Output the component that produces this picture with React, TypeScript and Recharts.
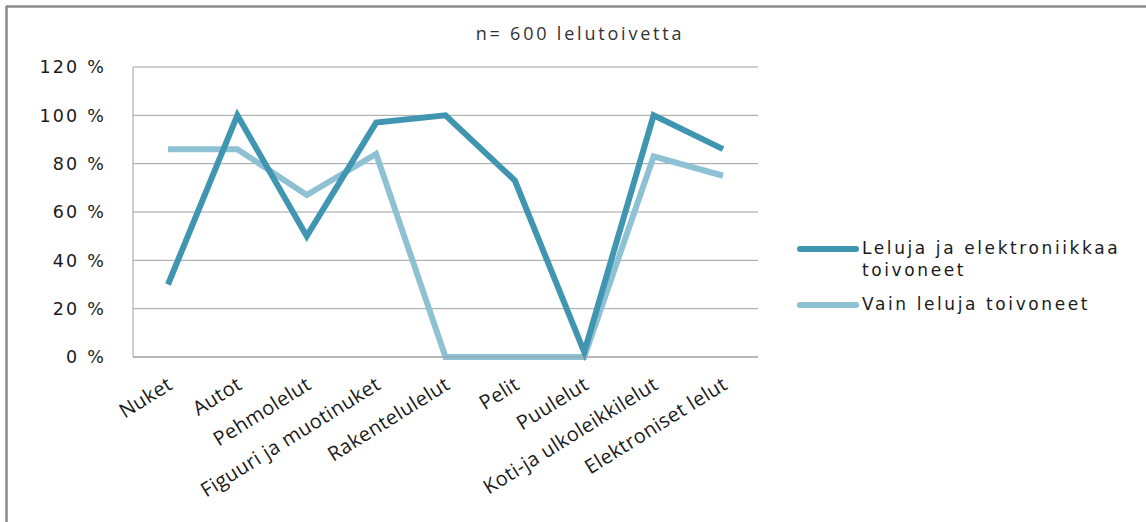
import { LineChart, Line, XAxis, YAxis, CartesianGrid, Legend } from "recharts"

const categories = [
  "Nuket",
  "Autot",
  "Pehmolelut",
  "Figuuri ja muotinuket",
  "Rakentelulelut",
  "Pelit",
  "Puulelut",
  "Koti-ja ulkoleikkilelut",
  "Elektroniset lelut"
]

// osuudet prosentteina
const lelujaJaElektroniikkaa = [30, 100, 50, 97, 100, 73, 2, 100, 86]
const vainLeluja = [86, 86, 67, 84, 0, 0, 0, 83, 75]

const yTicks = [0, 20, 40, 60, 80, 100, 120]

const seriesNames = ["Leluja ja elektroniikkaa toivoneet", "Vain leluja toivoneet"]

const DARK = "#4096b0"
const LIGHT = "#8ec1d4"
const FRAME = "#8a8a8a"

const data = categories.map((name, i) => ({
  name,
  a: lelujaJaElektroniikkaa[i],
  b: vainLeluja[i]
}))

const CategoryTick = ({ x, y, payload }: any) => (
  <text
    x={x + 6}
    y={y + 29}
    transform={`rotate(-32, ${x + 6}, ${y + 29})`}
    textAnchor="end"
    fontFamily="Open Sans"
    fontSize={20}
    letterSpacing={0.4}
    fill="#1a1a1a"
  >
    {payload.value}
  </text>
)

const LegendBox = () => (
  <div style={{ fontFamily: "DejaVu Sans", fontSize: 17, letterSpacing: 2.6, color: "#1a1a1a" }}>
    <div style={{ display: "flex", alignItems: "flex-start", marginBottom: 12 }}>
      <div style={{ width: 62, height: 6, borderRadius: 3, background: DARK, marginTop: 9, marginRight: 3 }} />
      <div style={{ lineHeight: "22px" }}>
        Leluja ja elektroniikkaa
        <br />
        toivoneet
      </div>
    </div>
    <div style={{ display: "flex", alignItems: "flex-start" }}>
      <div style={{ width: 62, height: 6, borderRadius: 3, background: LIGHT, marginTop: 9, marginRight: 3 }} />
      <div style={{ lineHeight: "22px" }}>Vain leluja toivoneet</div>
    </div>
  </div>
)

export default function App() {
  return (
    <div style={{ position: "fixed", left: 0, top: 0, width: 1146, height: 522, background: "#fff", overflow: "hidden" }}>
      <div
        style={{
          position: "absolute",
          left: 0,
          top: 21,
          width: 1160,
          textAlign: "center",
          fontFamily: "Open Sans",
          fontSize: 18,
          letterSpacing: 2.8,
          color: "#333"
        }}
      >
        n= 600 lelutoivetta
      </div>
      <div style={{ position: "absolute", left: 0, top: 0 }}>
        <LineChart
          width={1146}
          height={522}
          data={data}
          margin={{ top: 67, right: 388, bottom: 135, left: 43 }}
        >
          <CartesianGrid vertical={false} stroke="#a0a0a0" />
          <XAxis
            dataKey="name"
            interval={0}
            padding={{ left: 35, right: 35 }}
            stroke="#a0a0a0"
            tickLine={false}
            tickSize={0}
            tick={<CategoryTick />}
            height={30}
          />
          <YAxis
            width={90}
            domain={[0, 120]}
            ticks={yTicks}
            stroke="#a0a0a0"
            tickLine={false}
            tickSize={0}
            tickMargin={27}
            tickFormatter={(v: number) => `${v} %`}
            tick={{ fontFamily: "DejaVu Sans", fontSize: 17.5, letterSpacing: 2.2, fill: "#1a1a1a" }}
          />
          <Line
            type="linear"
            dataKey="b"
            name={seriesNames[1]}
            stroke={LIGHT}
            strokeWidth={6}
            dot={false}
            isAnimationActive={false}
          />
          <Line
            type="linear"
            dataKey="a"
            name={seriesNames[0]}
            stroke={DARK}
            strokeWidth={6}
            dot={false}
            isAnimationActive={false}
          />
          <Legend
            layout="horizontal"
            verticalAlign="middle"
            align="center"
            content={<LegendBox />}
            wrapperStyle={{ position: "absolute", left: 797, top: 237, width: 345 }}
          />
        </LineChart>
      </div>
      {/* kehyksen ylä- ja vasen reuna */}
      <svg
        width={1146}
        height={522}
        style={{ position: "absolute", left: 0, top: 0, pointerEvents: "none" }}
      >
        <line x1={6} y1={6.5} x2={1146} y2={6.5} stroke={FRAME} strokeWidth={2.5} />
        <line x1={6.5} y1={6} x2={6.5} y2={522} stroke={FRAME} strokeWidth={2.5} />
      </svg>
    </div>
  )
}
